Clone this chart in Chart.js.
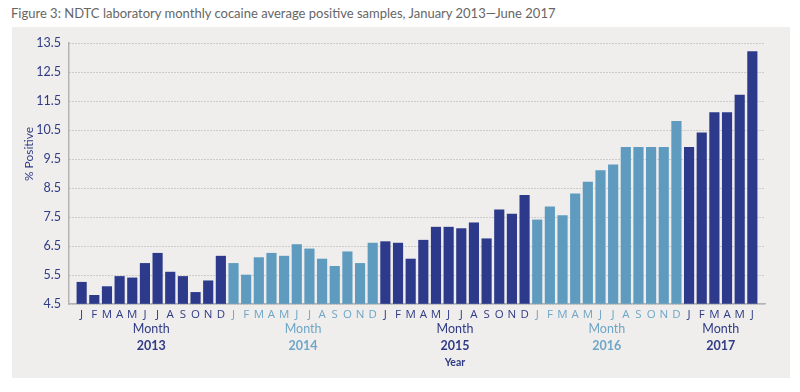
<!DOCTYPE html>
<html><head><meta charset="utf-8">
<script src="https://cdn.jsdelivr.net/npm/chart.js@4.4.1/dist/chart.umd.min.js"></script>
<style>
html,body{margin:0;padding:0;background:#fff;}
#wrap{position:relative;width:800px;height:392px;overflow:hidden;}
#title{position:absolute;left:11px;top:5px;font:13px Lato, sans-serif;color:#666;white-space:nowrap;}
#panel{position:absolute;left:12px;top:27px;width:778px;height:351px;background:#efeeec;}
canvas{position:absolute;left:0;top:0;}
</style></head>
<body>
<div id="wrap">
<div id="title">Figure 3: NDTC laboratory monthly cocaine average positive samples, January 2013—June 2017</div>
<div id="panel"></div>
<canvas id="c" width="800" height="392"></canvas>
</div>
<script>
const years = ['2013', '2014', '2015', '2016', '2017'];
const monthLetters = ['J','F','M','A','M','J','J','A','S','O','N','D'];
const v2013 = [5.25, 4.8, 5.1, 5.45, 5.4, 5.9, 6.25, 5.6, 5.45, 4.9, 5.3, 6.15];
const v2014 = [5.9, 5.5, 6.1, 6.25, 6.15, 6.55, 6.4, 6.05, 5.8, 6.3, 5.9, 6.6];
const v2015 = [6.65, 6.6, 6.05, 6.7, 7.15, 7.15, 7.1, 7.3, 6.75, 7.75, 7.6, 8.25];
const v2016 = [7.4, 7.85, 7.55, 8.3, 8.7, 9.1, 9.3, 9.9, 9.9, 9.9, 9.9, 10.8];
const v2017 = [9.9, 10.4, 11.1, 11.1, 11.7, 13.2];
const yTicks = [4.5, 5.5, 6.5, 7.5, 8.5, 9.5, 10.5, 11.5, 12.5, 13.5];
const yTitle = '% Positive';
const xTitle = 'Year';
const groupLabel = 'Month';

const DARK = '#2d3a8b', LIGHT = '#5e9bbf';
const DARK_TXT = '#2f3b85', LIGHT_TXT = '#6ea6c7';
const yearVals = [v2013, v2014, v2015, v2016, v2017];
const points = [];
const yearOf = [];
yearVals.forEach((arr, yi) => arr.forEach(v => { points.push({x: points.length, y: v}); yearOf.push(yi); }));
const N = points.length;
const barCol = i => (yearOf[i] % 2 === 0 ? DARK : LIGHT);
const txtCol = yi => (yi % 2 === 0 ? DARK_TXT : LIGHT_TXT);

const extraText = {
  id: 'extraText',
  afterDraw(chart) {
    const ctx = chart.ctx, xs = chart.scales.x;
    ctx.save();
    ctx.textAlign = 'center';
    ctx.textBaseline = 'middle';
    let start = 0;
    yearVals.forEach((arr, yi) => {
      const cx = xs.getPixelForValue(start + (arr.length - 1) / 2);
      ctx.fillStyle = txtCol(yi);
      ctx.font = '12.5px Lato, sans-serif';
      ctx.fillText(groupLabel, cx, 329);
      ctx.font = 'bold 12.5px Lato, sans-serif';
      ctx.fillText(years[yi], cx, 346);
      if (yi === 2) {
        ctx.fillStyle = DARK_TXT;
        ctx.font = 'bold 10.5px Lato, sans-serif';
        ctx.fillText(xTitle, cx, 363);
      }
      start += arr.length;
    });
    ctx.translate(29, 154);
    ctx.rotate(-Math.PI / 2);
    ctx.fillStyle = DARK_TXT;
    ctx.font = '12px Lato, sans-serif';
    ctx.fillText(yTitle, 0, 0);
    ctx.restore();
  }
};

new Chart(document.getElementById('c'), {
  type: 'bar',
  data: {
    datasets: [{
      data: points,
      backgroundColor: ctx => barCol(ctx.dataIndex),
      barThickness: 9.5,
      base: yTicks[0],
      borderWidth: 0
    }]
  },
  options: {
    responsive: false,
    animation: false,
    devicePixelRatio: 1,
    layout: { padding: { left: 0, right: 35, top: 43, bottom: 0 } },
    plugins: { legend: { display: false }, tooltip: { enabled: false }, title: { display: false } },
    scales: {
      x: {
        type: 'linear',
        offset: false,
        min: -1,
        max: N,
        grid: { display: false, drawTicks: false, offset: false },
        border: { display: true, color: '#b3b3b3', width: 1.5 },
        afterFit: s => { s.height = 88; s.paddingLeft = 0; s.paddingRight = 0; },
        afterBuildTicks: s => { s.ticks = points.map(p => ({ value: p.x })); },
        ticks: {
          autoSkip: false,
          maxRotation: 0,
          padding: 4,
          font: { family: '"Open Sans", sans-serif', size: 11.5 },
          color: c => txtCol(yearOf[c.tick ? c.tick.value : 0] ?? 0),
          callback: v => monthLetters[v % 12]
        }
      },
      y: {
        min: yTicks[0],
        max: yTicks[yTicks.length - 1],
        afterFit: s => { s.width = 69; },
        afterBuildTicks: s => { s.ticks = yTicks.map(v => ({ value: v })); },
        grid: { color: '#ababab', lineWidth: 1, drawTicks: false },
        border: { display: true, color: '#b3b3b3', width: 1.5, dash: [1, 2] },
        ticks: {
          padding: 8,
          color: DARK_TXT,
          font: { family: 'Lato, sans-serif', size: 12.5 },
          callback: v => Number(v).toFixed(1)
        }
      }
    }
  },
  plugins: [extraText]
});
</script>
</body></html>
